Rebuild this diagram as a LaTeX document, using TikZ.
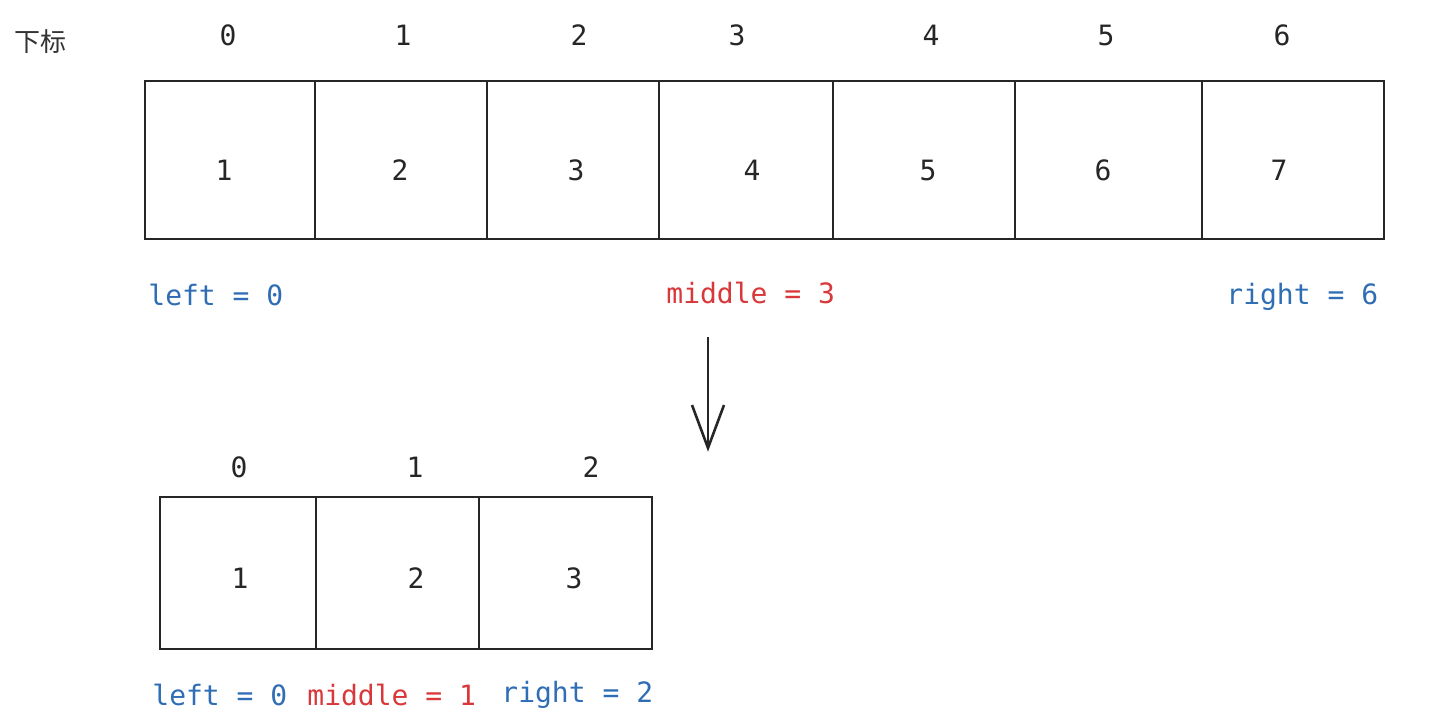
\documentclass[tikz,border=0pt]{standalone}
\usepackage{fontspec}
\setmonofont{DejaVu Sans Mono}
\newfontfamily\cjk{Noto Sans CJK SC}
\usetikzlibrary{arrows.meta}
\definecolor{myblue}{HTML}{2F6DB5}
\definecolor{myred}{HTML}{D9383A}
\begin{document}
\begin{tikzpicture}[x=0.5pt,y=-0.5pt,
  txt/.style={font=\ttfamily\fontsize{14}{16}\selectfont,text=black!85,inner sep=0pt},
  lbl/.style={font=\ttfamily\fontsize{14}{16}\selectfont,inner sep=0pt,anchor=west},
  cell/.style={draw=black!85,line width=1.2pt,inner sep=0pt,font=\ttfamily\fontsize{14}{16}\selectfont,text=black!85}]
\useasboundingbox (0,0) rectangle (1429,723);
\node[anchor=center,inner sep=0pt,text=black!80] (xb) at (40,42) {\cjk\fontsize{13}{15}\selectfont 下标};
% top row
\foreach \a/\b/\v [count=\i from 0] in {144/314/1,314/486/2,486/658/3,658/832/4,832/1014/5,1014/1201/6,1201/1383/7}{
  \node[cell,minimum width={(\b-\a)*0.5pt},minimum height=79pt,anchor=north west] (t\i) at (\a,80) {};
}
\foreach \x/\v [count=\i from 0] in {224/1,400/2,576/3,752/4,928/5,1103/6,1279/7}{
  \node[txt] (tv\i) at (\x,170) {\v};
}
\foreach \x [count=\i from 0] in {228,403,579,737,931,1106,1282}{
  \pgfmathtruncatemacro\k{\i}
  \node[txt] (ti\i) at (\x,35) {\k};
}
\node[lbl,text=myblue] (l1) at (148,295) {left = 0};
\node[lbl,text=myred] (m1) at (666,293) {middle = 3};
\node[lbl,text=myblue] (r1) at (1226,297) {right = 6};
% arrow
\coordinate (as) at (708,337);
\coordinate (ae) at (708,448);
\draw[line width=1.3pt,black!85] (as) -- (ae);
\draw[line width=1.3pt,black!85] (692,405) -- (ae) -- (724,405);
% bottom row
\foreach \a/\b [count=\i from 0] in {159/315,315/478,478/651}{
  \node[cell,minimum width={(\b-\a)*0.5pt},minimum height=76pt,anchor=north west] (b\i) at (\a,496) {};
}
\foreach \x/\v [count=\i from 0] in {240/1,416/2,574/3}{
  \node[txt] (bv\i) at (\x,578) {\v};
}
\foreach \x/\v [count=\i from 0] in {239/0,415/1,591/2}{
  \node[txt] (bi\i) at (\x,467) {\v};
}
\node[lbl,text=myblue] (l2) at (152,695) {left = 0};
\node[lbl,text=myred] (m2) at (307,695) {middle = 1};
\node[lbl,text=myblue] (r2) at (501,695) {right = 2};
\end{tikzpicture}
\end{document}
